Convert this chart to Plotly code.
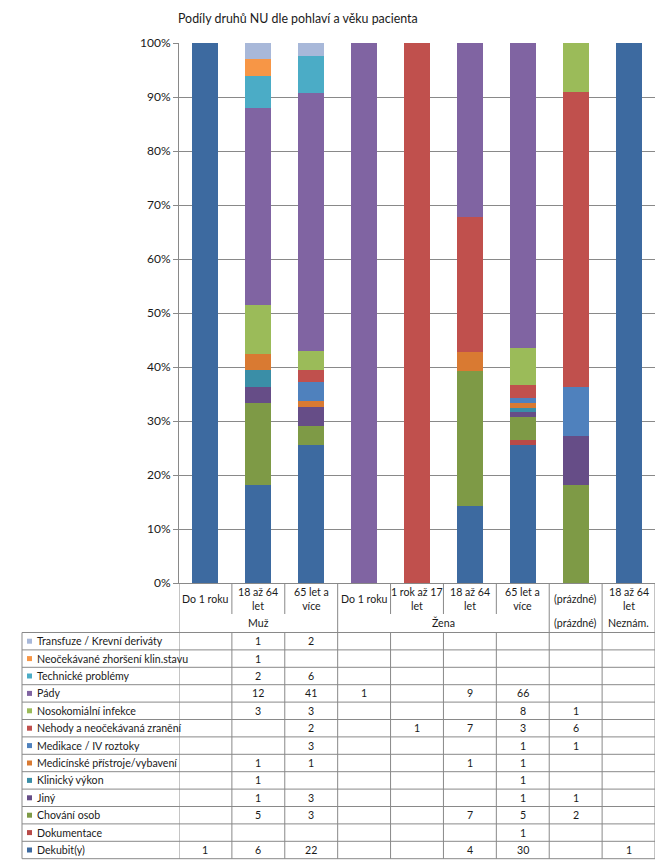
import plotly.graph_objects as go

# ---------------- data ----------------
categories = ["Do 1 roku", "18 až 64 let", "65 let a více", "Do 1 roku", "1 rok až 17 let",
              "18 až 64 let", "65 let a více", "(prázdné)", "18 až 64 let"]
category_labels = ["Do 1 roku", "18 až 64<br>let", "65 let a<br>více", "Do 1 roku", "1 rok až 17<br>let",
                   "18 až 64<br>let", "65 let a<br>více", "(prázdné)", "18 až 64<br>let"]
groups = ["Muž", "Muž", "Muž", "Žena", "Žena", "Žena", "Žena", "(prázdné)", "Neznám."]

# bottom -> top stacking order
series_names = ["Dekubit(y)", "Dokumentace", "Chování osob", "Jiný", "Klinický výkon",
                "Medicínské přístroje/vybavení", "Medikace / IV roztoky",
                "Nehody a neočekávaná zranění", "Nosokomiální infekce", "Pády",
                "Technické problémy", "Neočekávané zhoršení klin.stavu", "Transfuze / Krevní deriváty"]
N = None
dekubit      = [1, 6, 22, N, N, 4, 30, N, 1]
dokumentace  = [N, N, N, N, N, N, 1, N, N]
chovani      = [N, 5, 3, N, N, 7, 5, 2, N]
jiny         = [N, 1, 3, N, N, N, 1, 1, N]
klinicky     = [N, 1, N, N, N, N, 1, N, N]
pristroje    = [N, 1, 1, N, N, 1, 1, N, N]
medikace     = [N, N, 3, N, N, N, 1, 1, N]
nehody       = [N, N, 2, N, 1, 7, 3, 6, N]
nosokomialni = [N, 3, 3, N, N, N, 8, 1, N]
pady         = [N, 12, 41, 1, N, 9, 66, N, N]
technicke    = [N, 2, 6, N, N, N, N, N, N]
neocekavane  = [N, 1, N, N, N, N, N, N, N]
transfuze    = [N, 1, 2, N, N, N, N, N, N]
series_values = [dekubit, dokumentace, chovani, jiny, klinicky, pristroje, medikace,
                 nehody, nosokomialni, pady, technicke, neocekavane, transfuze]
colors = ["#3D6AA0", "#B84A48", "#7E9A46", "#664D87", "#3A8EA7", "#D97A32", "#4F81BD",
          "#C0504D", "#9BBB59", "#8064A2", "#4BACC6", "#F79646", "#A8B8D9"]
y_ticks = [0, 10, 20, 30, 40, 50, 60, 70, 80, 90, 100]
title_text = "Podíly druhů NU dle pohlaví a věku pacienta"

# ---------------- layout geometry (pixels) ----------------
W, H = 667, 866
L, R, T, B = 179, 12, 43, 283
PW, PH = W - L - R, H - T - B
PLOT_BOTTOM = H - B
FONT = "Lato"
GRID = "#898989"
TXT = "#1a1a1a"
TSIZE = 10.6

def py(pix):
    return (PLOT_BOTTOM - pix) / PH

def px(pix):
    return (pix - L) / PW

keys = [f"{g}|{c}" for g, c in zip(groups, categories)]

fig = go.Figure()
for name, vals, col in zip(series_names, series_values, colors):
    fig.add_trace(go.Bar(x=keys, y=vals, name=name, marker=dict(color=col, line=dict(width=0)),
                         showlegend=False))

shapes = []
annotations = []

# header: category labels
hdr_single, hdr_group = 599, 623
for i, lab in enumerate(category_labels):
    annotations.append(dict(x=keys[i], xref="x", y=py(hdr_single), yref="paper", text=lab,
                            showarrow=False, font=dict(size=TSIZE, color=TXT), xanchor="center",
                            yanchor="middle"))

# group labels
seen = []
for g in groups:
    if g not in seen:
        seen.append(g)
for g in seen:
    idx = [i for i, gg in enumerate(groups) if gg == g]
    annotations.append(dict(x=sum(idx) / len(idx), xref="x", y=py(hdr_group), yref="paper", text=g,
                            showarrow=False, font=dict(size=TSIZE, color=TXT), xanchor="center",
                            yanchor="middle"))

# vertical separators in header and table
table_top, row_h = 632.5, 17.4
n_rows = len(series_names)
table_bottom = table_top + n_rows * row_h
for i in range(len(categories) + 1):
    boundary = i - 0.5
    is_group = i == 0 or i == len(categories) or groups[i] != groups[i - 1]
    if is_group:
        y0 = PLOT_BOTTOM
    else:
        y0 = table_top
        shapes.append(dict(type="line", xref="x", yref="paper", x0=boundary, x1=boundary,
                           y0=py(PLOT_BOTTOM), y1=py(614), line=dict(color=GRID, width=1)))
    shapes.append(dict(type="line", xref="x", yref="paper", x0=boundary, x1=boundary,
                       y0=py(y0), y1=py(table_bottom), line=dict(color=GRID, width=1)))

# table horizontal lines
table_left = 22
for k in range(n_rows + 1):
    yy = table_top + k * row_h
    shapes.append(dict(type="line", xref="paper", yref="paper", x0=px(table_left), x1=1,
                       y0=py(yy), y1=py(yy), line=dict(color=GRID, width=1)))
shapes.append(dict(type="line", xref="paper", yref="paper", x0=px(table_left), x1=px(table_left),
                   y0=py(table_top), y1=py(table_bottom), line=dict(color=GRID, width=1)))

# table rows (top row = last series)
for r, s in enumerate(reversed(range(n_rows))):
    yc = table_top + (r + 0.5) * row_h
    shapes.append(dict(type="rect", xref="paper", yref="paper", x0=px(27), x1=px(32),
                       y0=py(yc + 2.5), y1=py(yc - 2.5), fillcolor=colors[s], line=dict(width=0)))
    annotations.append(dict(x=px(35), xref="paper", y=py(yc), yref="paper", text=series_names[s],
                            showarrow=False, xanchor="left", yanchor="middle",
                            font=dict(size=TSIZE, color=TXT)))
    for i, v in enumerate(series_values[s]):
        if v is not None:
            annotations.append(dict(x=keys[i], xref="x", y=py(yc), yref="paper", text=str(v),
                                    showarrow=False, xanchor="center", yanchor="middle",
                                    font=dict(size=TSIZE, color=TXT)))

# title
annotations.append(dict(x=px(176), xref="paper", y=py(19), yref="paper", text=title_text,
                        showarrow=False, xanchor="left", yanchor="middle",
                        font=dict(size=12.4, color=TXT)))

fig.update_layout(
    width=W, height=H,
    margin=dict(l=L, r=R, t=T, b=B, autoexpand=False),
    paper_bgcolor="white", plot_bgcolor="white",
    barmode="stack", barnorm="percent", bargap=0.51,
    font=dict(family=FONT, size=11, color=TXT),
    shapes=shapes, annotations=annotations,
    xaxis=dict(type="category", categoryorder="array", categoryarray=keys,
               showticklabels=False, showgrid=False, showline=True, linecolor=GRID,
               ticks="", range=[-0.5, len(keys) - 0.5], zeroline=False),
    yaxis=dict(range=[0, 100], tickvals=y_ticks, ticktext=[f"{t}%" for t in y_ticks],
               showgrid=True, gridcolor=GRID, gridwidth=1, showline=True, linecolor=GRID,
               ticks="outside", ticklen=5, tickcolor=GRID, zeroline=False,
               tickfont=dict(size=12, color=TXT)),
)

fig.write_html("out.html")
